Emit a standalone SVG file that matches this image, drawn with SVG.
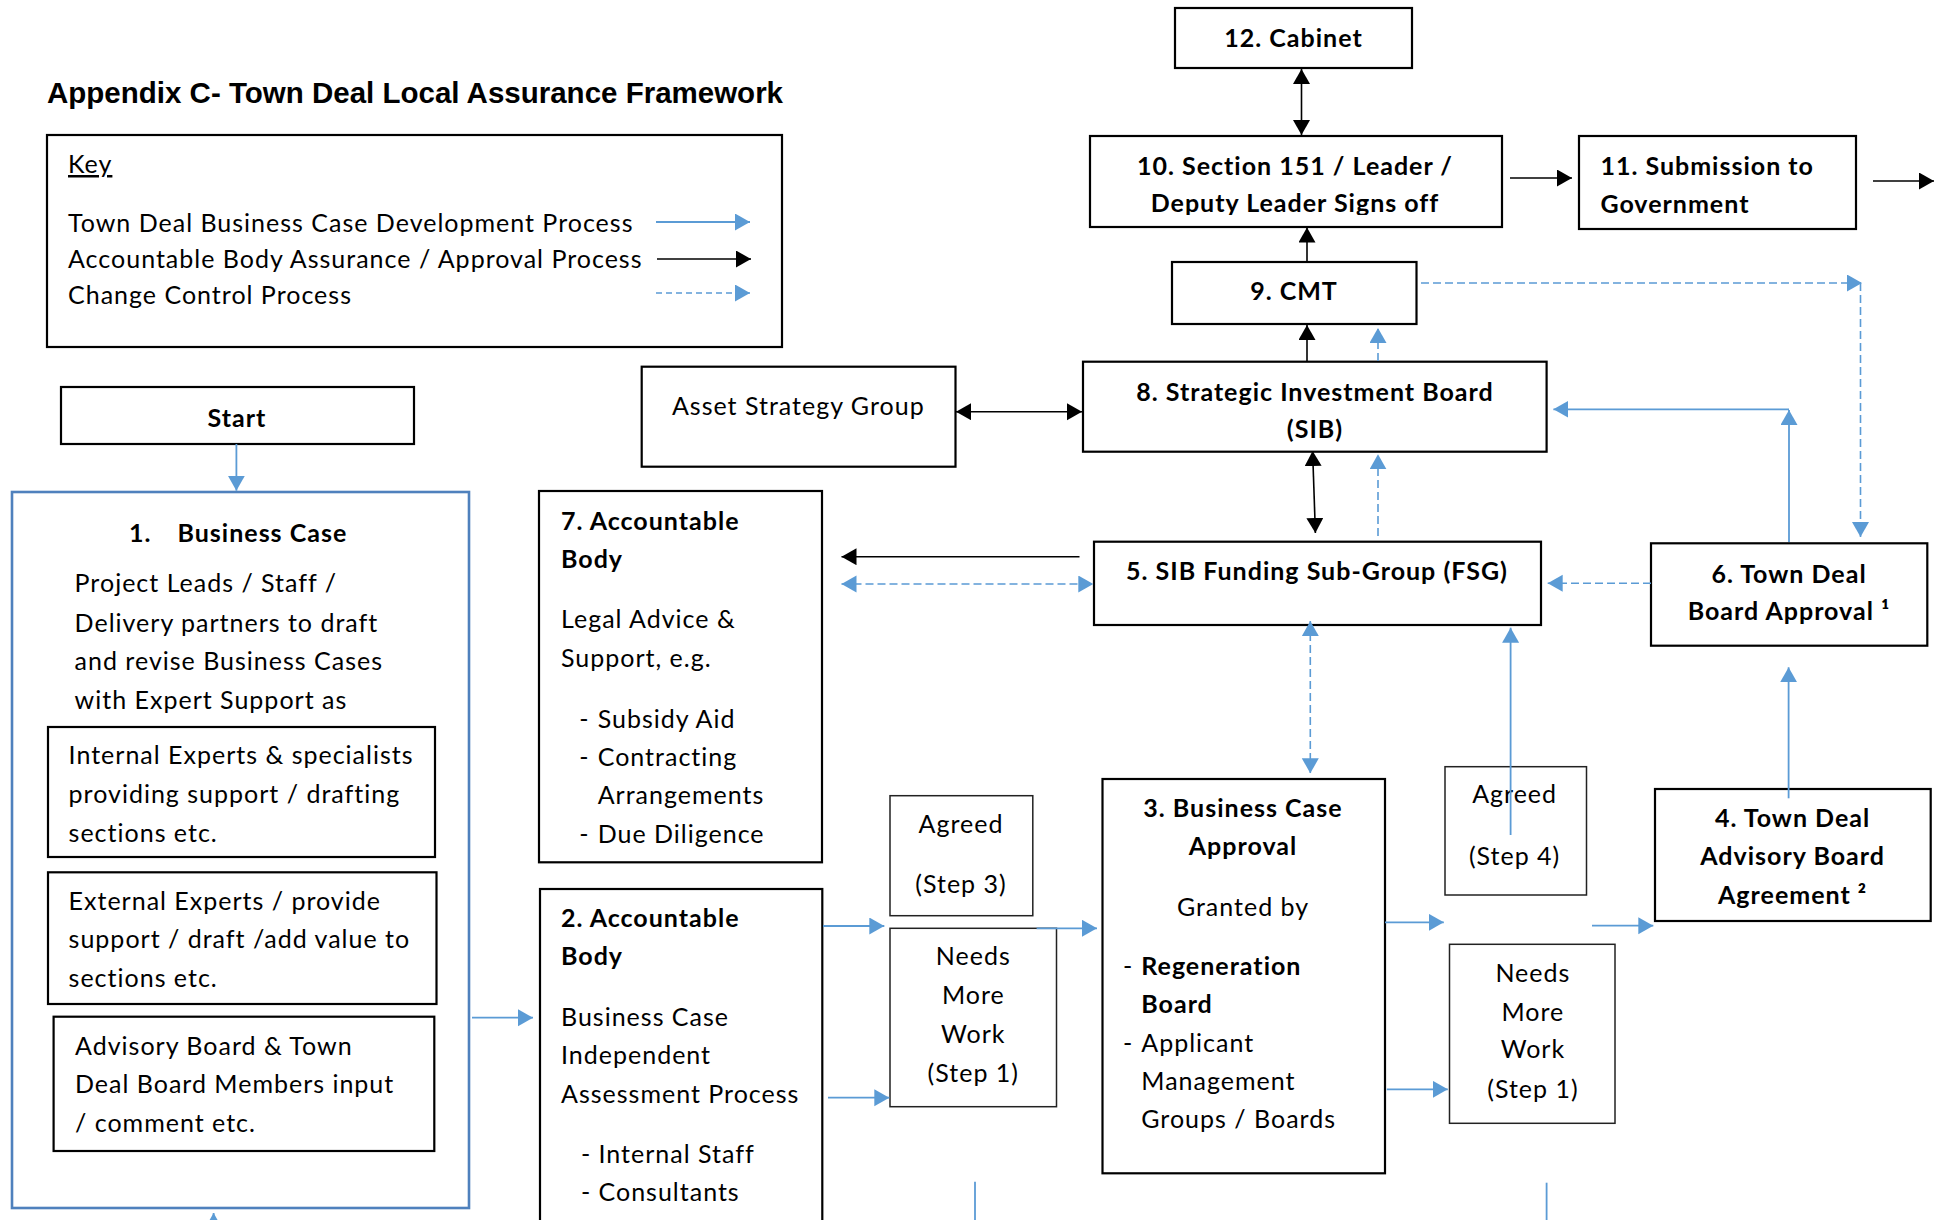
<svg xmlns="http://www.w3.org/2000/svg" width="1945" height="1220" viewBox="0 0 1945 1220">
<defs>
<style>
text{font-family:Lato,"Liberation Sans",sans-serif;font-size:25px;letter-spacing:1px;fill:#000}
.b{font-weight:bold}
.t{font-family:"Liberation Sans",Arial,sans-serif;font-size:29.5px;font-weight:bold;letter-spacing:0}
.c{text-anchor:middle}
.box{fill:#fff;stroke:#000;stroke-width:2.2}
.thin{fill:#fff;stroke:#222;stroke-width:1.5}
.blue{fill:#fff;stroke:#4F81BD;stroke-width:2.6}
.bl{stroke:#5B9BD5;stroke-width:1.8;fill:none}
.bk{stroke:#000;stroke-width:1.6;fill:none}
.dash{stroke:#5B9BD5;stroke-width:1.6;fill:none;stroke-dasharray:8 4}
.ldash{stroke:#5B9BD5;stroke-width:1.6;fill:none;stroke-dasharray:6 4}
</style>
<marker id="ab" markerUnits="userSpaceOnUse" markerWidth="16" markerHeight="18" viewBox="0 0 16 18" refX="15" refY="8.5" orient="auto-start-reverse"><path d="M0,0 L15,8.5 L0,17 z" fill="#5B9BD5"/></marker>
<marker id="ak" markerUnits="userSpaceOnUse" markerWidth="16" markerHeight="18" viewBox="0 0 16 18" refX="15" refY="8.5" orient="auto-start-reverse"><path d="M0,0 L15,8.5 L0,17 z" fill="#000"/></marker>
<clipPath id="clip10"><rect x="1090" y="136" width="412" height="79"/></clipPath>
</defs>
<rect width="1945" height="1220" fill="#fff"/>

<g id="title"><text class="t" x="47" y="103">Appendix C- Town Deal Local Assurance Framework</text></g>

<g id="key">
<rect class="box" x="47" y="135" width="735" height="212"/>
<text x="68" y="173" text-decoration="underline">Key</text>
<text x="68" y="232">Town Deal Business Case Development Process</text>
<text x="68" y="268">Accountable Body Assurance / Approval Process</text>
<text x="68" y="304">Change Control Process</text>
<path class="bl" d="M656,222 H750" marker-end="url(#ab)"/>
<path class="bk" d="M657,259 H751" marker-end="url(#ak)"/>
<path class="ldash" d="M656,293 H750" marker-end="url(#ab)"/>
</g>

<g id="node-start">
<rect class="box" x="61" y="387" width="353" height="57"/>
<text class="b c" x="237" y="427">Start</text>
</g>

<g id="node-1">
<rect class="blue" x="12" y="492" width="457" height="716"/>
<text class="b" y="542"><tspan x="129">1.</tspan><tspan x="177.5">Business Case</tspan></text>
<text x="74.6" y="592">Project Leads / Staff /</text>
<text x="74.6" y="631.5">Delivery partners to draft</text>
<text x="74.6" y="670">and revise Business Cases</text>
<text x="74.6" y="708.5">with Expert Support as</text>
<rect class="box" x="48" y="727" width="387" height="130"/>
<text x="68.6" y="764">Internal Experts &amp; specialists</text>
<text x="68.6" y="803">providing support / drafting</text>
<text x="68.6" y="841.7">sections etc.</text>
<rect class="box" x="48" y="872.3" width="388.5" height="131.7"/>
<text x="68.6" y="910">External Experts / provide</text>
<text x="68.6" y="948">support / draft /add value to</text>
<text x="68.6" y="986.7">sections etc.</text>
<rect class="box" x="53.6" y="1016.7" width="380.7" height="134.3"/>
<text x="75" y="1055">Advisory Board &amp; Town</text>
<text x="75" y="1093">Deal Board Members input</text>
<text x="75" y="1131.7">/ comment etc.</text>
</g>

<g id="node-asg">
<rect class="box" x="641.7" y="366.7" width="313.8" height="100"/>
<text class="c" x="798.3" y="415">Asset Strategy Group</text>
</g>

<g id="node-7">
<rect class="box" x="539" y="491" width="283" height="371.3"/>
<text class="b" x="561" y="530">7. Accountable</text>
<text class="b" x="561" y="568.3">Body</text>
<text x="561" y="628.3">Legal Advice &amp;</text>
<text x="561" y="667.3">Support, e.g.</text>
<text x="579.3" y="727.7">-</text><text x="597.7" y="727.7">Subsidy Aid</text>
<text x="579.3" y="766">-</text><text x="597.7" y="766">Contracting</text>
<text x="597.7" y="804.3">Arrangements</text>
<text x="579.3" y="843.3">-</text><text x="597.7" y="843.3">Due Diligence</text>
</g>

<g id="node-2">
<rect class="box" x="540" y="889" width="282.3" height="340"/>
<text class="b" x="561" y="926.7">2. Accountable</text>
<text class="b" x="561" y="965">Body</text>
<text x="561" y="1025.7">Business Case</text>
<text x="561" y="1064.3">Independent</text>
<text x="561" y="1103.3">Assessment Process</text>
<text x="581" y="1162.7">-</text><text x="598.5" y="1162.7">Internal Staff</text>
<text x="581" y="1201">-</text><text x="598.5" y="1201">Consultants</text>
</g>

<g id="node-agreed3">
<rect class="thin" x="890" y="795.7" width="142.8" height="120"/>
<text class="c" x="961" y="833.3">Agreed</text>
<text class="c" x="961" y="893.3">(Step 3)</text>
</g>

<g id="node-nmw1">
<rect class="thin" x="890" y="928.3" width="166.5" height="178.4"/>
<text class="c" x="973.3" y="965">Needs</text>
<text class="c" x="973.3" y="1004">More</text>
<text class="c" x="973.3" y="1042.7">Work</text>
<text class="c" x="973.3" y="1081.7">(Step 1)</text>
</g>

<g id="node-3">
<rect class="box" x="1102.5" y="779" width="282.5" height="394.3"/>
<text class="b c" x="1243" y="816.7">3. Business Case</text>
<text class="b c" x="1243" y="855">Approval</text>
<text class="c" x="1243" y="916">Granted by</text>
<text x="1123" y="975">-</text><text class="b" x="1141.3" y="975">Regeneration</text>
<text class="b" x="1141.3" y="1013.3">Board</text>
<text x="1123" y="1051.7">-</text><text x="1141.3" y="1051.7">Applicant</text>
<text x="1141.3" y="1090">Management</text>
<text x="1141.3" y="1128.3">Groups / Boards</text>
</g>

<g id="node-agreed4">
<rect class="thin" x="1445" y="766.7" width="141.5" height="128.3"/>
<text class="c" x="1514.6" y="803.3">Agreed</text>
<text class="c" x="1514.6" y="865">(Step 4)</text>
</g>

<g id="node-nmw2">
<rect class="thin" x="1449.5" y="944.3" width="165.5" height="179"/>
<text class="c" x="1532.9" y="981.7">Needs</text>
<text class="c" x="1532.9" y="1020.7">More</text>
<text class="c" x="1532.9" y="1058.3">Work</text>
<text class="c" x="1532.9" y="1097.7">(Step 1)</text>
</g>

<g id="node-4">
<rect class="box" x="1655" y="789" width="275.7" height="132"/>
<text class="b c" x="1792.6" y="826.7">4. Town Deal</text>
<text class="b c" x="1792.6" y="865">Advisory Board</text>
<text class="b c" x="1792.6" y="904">Agreement ²</text>
</g>

<g id="node-5">
<rect class="box" x="1094" y="541.7" width="447" height="83.3"/>
<text class="b c" x="1317" y="580">5. SIB Funding Sub-Group (FSG)</text>
</g>

<g id="node-6">
<rect class="box" x="1651" y="543.3" width="276.3" height="102.4"/>
<text class="b c" x="1789" y="582.7">6. Town Deal</text>
<text class="b c" x="1789" y="620">Board Approval ¹</text>
</g>

<g id="node-8">
<rect class="box" x="1083" y="361.7" width="463.6" height="90"/>
<text class="b c" x="1315" y="400.7">8. Strategic Investment Board</text>
<text class="b c" x="1315" y="438.3">(SIB)</text>
</g>

<g id="node-9">
<rect class="box" x="1172" y="262" width="244.5" height="62"/>
<text class="b c" x="1294" y="300">9. CMT</text>
</g>

<g id="node-10">
<rect class="box" x="1090" y="136" width="412" height="91"/>
<text class="b c" x="1295" y="175">10. Section 151 / Leader /</text>
<text class="b c" x="1295" y="212" clip-path="url(#clip10)">Deputy Leader Signs off</text>
</g>

<g id="node-11">
<rect class="box" x="1579" y="136" width="277" height="93"/>
<text class="b" x="1600.4" y="175">11. Submission to</text>
<text class="b" x="1600.4" y="213">Government</text>
</g>

<g id="node-12">
<rect class="box" x="1175" y="8" width="237" height="60"/>
<text class="b c" x="1293.5" y="47">12. Cabinet</text>
</g>

<g id="connectors">
<path class="bk" d="M1301.5,69 V135" marker-start="url(#ak)" marker-end="url(#ak)"/>
<path class="bk" d="M1510,178 H1572" marker-end="url(#ak)"/>
<path class="bk" d="M1873,181 H1934" marker-end="url(#ak)"/>
<path class="bk" d="M1307,262 V227.5" marker-end="url(#ak)"/>
<path class="bk" d="M1307,361 V325" marker-end="url(#ak)"/>
<path class="dash" d="M1378,361 V328" marker-end="url(#ab)"/>
<path class="dash" d="M1421,283 H1862" marker-end="url(#ab)"/>
<path class="dash" d="M1860.5,283 V537" marker-end="url(#ab)"/>
<path class="bk" d="M956,411.7 H1082" marker-start="url(#ak)" marker-end="url(#ak)"/>
<path class="bk" d="M1079.5,556.7 H841.5" marker-end="url(#ak)"/>
<path class="dash" d="M841.5,584 H1093.3" marker-start="url(#ab)" marker-end="url(#ab)"/>
<path class="bk" d="M1312.6,451 L1315.4,533" marker-start="url(#ak)" marker-end="url(#ak)"/>
<path class="dash" d="M1378,536 V454.3" marker-end="url(#ab)"/>
<path class="dash" d="M1651,583.3 H1547.7" marker-end="url(#ab)"/>
<path class="bl" d="M1789,542 V410" marker-end="url(#ab)"/>
<path class="bl" d="M1789,409.3 H1553.4" marker-end="url(#ab)"/>
<path class="dash" d="M1310.3,621 V773.3" marker-start="url(#ab)" marker-end="url(#ab)"/>
<path class="bl" d="M1510.6,835 V627.7" marker-end="url(#ab)"/>
<path class="bl" d="M1788.6,798.3 V667.3" marker-end="url(#ab)"/>
<path class="bl" d="M236.4,444 V490.7" marker-end="url(#ab)"/>
<path class="bl" d="M472,1017.7 H533" marker-end="url(#ab)"/>
<path class="bl" d="M213.6,1225 V1213" marker-end="url(#ab)"/>
<path class="bl" d="M823,926 H884.3" marker-end="url(#ab)"/>
<path class="bl" d="M828,1097.7 H889.3" marker-end="url(#ab)"/>
<path class="bl" d="M1036.6,928.3 H1097" marker-end="url(#ab)"/>
<path class="bl" d="M975,1181.7 V1220"/>
<path class="bl" d="M1385,922.3 H1443.8" marker-end="url(#ab)"/>
<path class="bl" d="M1592,925.7 H1653.3" marker-end="url(#ab)"/>
<path class="bl" d="M1386.8,1089.3 H1447.8" marker-end="url(#ab)"/>
<path class="bl" d="M1546.6,1182.7 V1220"/>
</g>
</svg>
